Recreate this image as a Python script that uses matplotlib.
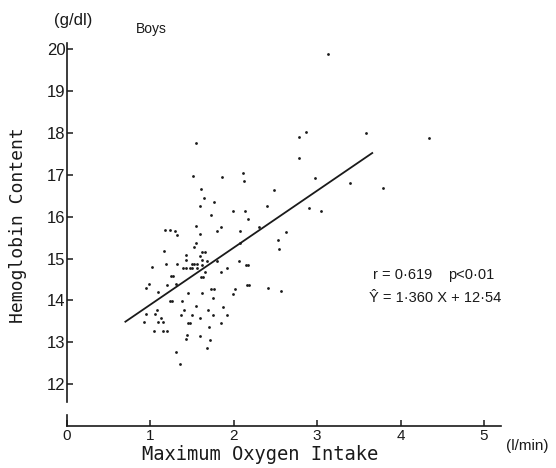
import matplotlib
matplotlib.use("Agg")
import matplotlib.pyplot as plt
import numpy as np

# ---- data ----
vo2 = [1.550, 1.514, 1.862, 2.107, 2.122, 1.603, 1.646, 1.766, 1.591, 1.723,
       1.987, 2.138, 2.170, 1.171, 1.231, 1.295, 1.319, 1.547, 1.595, 1.795,
       1.846, 2.071, 1.547, 1.526, 1.615, 1.658, 1.167, 1.427, 1.595, 2.074,
       1.423, 1.619, 1.673, 1.802, 2.059, 1.016, 1.183, 1.313, 1.394, 1.427,
       1.475, 1.499, 1.495, 1.526, 1.559, 1.619, 1.559, 1.658, 1.843, 1.915,
       2.152, 2.176, 1.247, 1.271, 1.603, 1.627, 0.989, 0.947, 1.199, 1.307,
       1.087, 1.451, 1.616, 1.721, 1.759, 1.754, 2.017, 1.993, 2.155, 2.179,
       1.235, 1.255, 1.373, 1.547, 1.874, 1.079, 0.950, 1.061, 1.123, 0.921,
       1.093, 1.157, 1.403, 1.361, 1.502, 1.691, 1.745, 1.924, 1.589, 1.453,
       1.472, 1.849, 1.041, 1.153, 1.205, 1.705, 1.439, 1.595, 1.427, 1.718,
       1.679, 1.311, 1.351, 2.869, 2.782, 3.589, 2.778, 2.970, 2.486, 3.393,
       2.398, 2.902, 3.049, 2.299, 2.630, 2.534, 2.546, 3.129, 4.340, 3.785,
       2.410, 2.566]
hb = [17.76, 16.98, 16.95, 17.03, 16.84, 16.66, 16.45, 16.36, 16.25, 16.04,
      16.14, 16.14, 15.95, 15.68, 15.68, 15.66, 15.57, 15.78, 15.58, 15.66,
      15.76, 15.66, 15.38, 15.27, 15.16, 15.16, 15.18, 15.08, 15.06, 15.36,
      14.96, 14.96, 14.95, 14.94, 14.95, 14.80, 14.87, 14.87, 14.77, 14.77,
      14.77, 14.77, 14.86, 14.86, 14.86, 14.84, 14.77, 14.67, 14.67, 14.77,
      14.84, 14.84, 14.59, 14.59, 14.57, 14.57, 14.39, 14.29, 14.37, 14.38,
      14.19, 14.17, 14.17, 14.27, 14.27, 14.05, 14.27, 14.15, 14.36, 14.36,
      13.99, 13.99, 13.98, 13.86, 13.85, 13.78, 13.68, 13.68, 13.58, 13.49,
      13.49, 13.49, 13.77, 13.66, 13.66, 13.76, 13.66, 13.66, 13.57, 13.47,
      13.47, 13.45, 13.28, 13.28, 13.28, 13.36, 13.17, 13.16, 13.08, 13.06,
      12.86, 12.78, 12.48, 18.02, 17.90, 18.00, 17.41, 16.92, 16.64, 16.81,
      16.25, 16.21, 16.13, 15.75, 15.64, 15.44, 15.23, 19.89, 17.88, 16.69,
      14.30, 14.22]

slope = 1.360
intercept = 12.54
fit_x_range = [0.70, 3.66]

x_ticks = [0, 1, 2, 3, 4, 5]
y_ticks = [12, 13, 14, 15, 16, 17, 18, 19, 20]

# ---- figure ----
fig = plt.figure(figsize=(5.56, 4.68), dpi=100)
ax = fig.add_axes([0.1205, 0.0895, 0.780, 0.8237])
ax.set_xlim(0, 5.2)
ax.set_ylim(11.0, 20.2)

ink = "#1a1a1a"
ax.scatter(vo2, hb, s=4, color=ink, linewidths=0, zorder=3)

fx = np.array(fit_x_range)
ax.plot(fx, slope * fx + intercept, color=ink, lw=1.3, zorder=2)

# spines: broken y axis
for s in ["top", "right", "left"]:
    ax.spines[s].set_visible(False)
ax.spines["bottom"].set_linewidth(1.2)
ax.spines["bottom"].set_color(ink)
ax.plot([0, 0], [11.58, 20.15], color=ink, lw=1.2, clip_on=False)
ax.plot([0, 0], [11.0, 11.26], color=ink, lw=1.2, clip_on=False)

ax.set_xticks(x_ticks)
ax.set_yticks(y_ticks)
ax.set_xticklabels([str(v) for v in x_ticks], family="Liberation Sans", size=11)
ax.set_yticklabels([str(v) for v in y_ticks], family="Liberation Sans", size=12)
ax.tick_params(axis="both", direction="in", length=4, width=1.1, color=ink,
               labelcolor=ink)
ax.tick_params(axis="y", pad=1)
ax.tick_params(axis="x", pad=2)

labfont = dict(family="DejaVu Sans Mono", size=13.5, color=ink)
fig.text(260 / 556, 1 - 455 / 468, "Maximum Oxygen Intake", ha="center",
         va="center", **labfont)
fig.text(0.033, 0.52, "Hemoglobin Content", rotation=90, ha="center",
         va="center", family="DejaVu Sans Mono", size=13, color=ink)

smallfont = dict(family="Liberation Sans", color=ink)
fig.text(73 / 556, 1 - 20 / 468, "(g/dl)", ha="center", va="center",
         size=12, **smallfont)
fig.text(151 / 556, 1 - 29 / 468, "Boys", ha="center", va="center",
         size=10, **smallfont)
fig.text(527 / 556, 1 - 446 / 468, "(l/min)", ha="center", va="center",
         size=11, **smallfont)

fig.text(373 / 556, 1 - 275 / 468, "r = 0\u00b7619", ha="left", va="center",
         size=10.5, **smallfont)
fig.text(448 / 556, 1 - 275 / 468, "p<0\u00b701", ha="left", va="center",
         size=10.5, **smallfont)
fig.text(369 / 556, 1 - 298 / 468, "\u0176 = 1\u00b7360 X + 12\u00b754",
         ha="left", va="center", size=10.5, **smallfont)

fig.savefig("out.png", dpi=100, facecolor="white")
